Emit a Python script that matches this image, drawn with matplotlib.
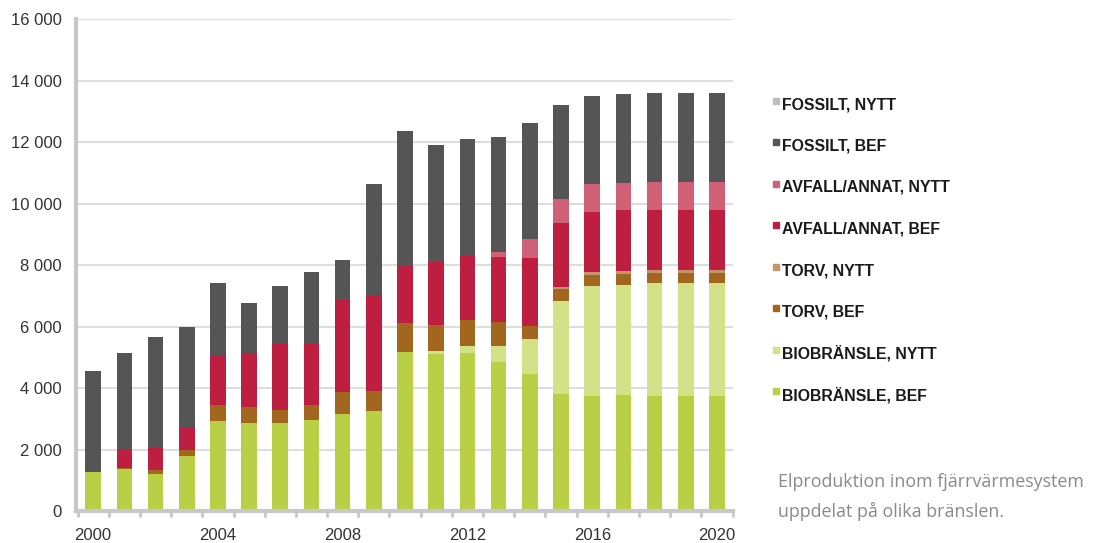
import matplotlib.pyplot as plt
from matplotlib.patches import Rectangle
from matplotlib.ticker import FuncFormatter

years = list(range(2000, 2021))

bio_bef = [1270, 1360, 1220, 1790, 2920, 2850, 2850, 2950, 3160, 3250, 5180,
           5110, 5130, 4850, 4440, 3800, 3730, 3760, 3730, 3730, 3730]
bio_nytt = [0, 0, 0, 0, 0, 0, 0, 0, 0, 0, 0,
            80, 230, 520, 1160, 3040, 3590, 3600, 3670, 3670, 3670]
torv_bef = [0, 50, 110, 190, 530, 540, 420, 500, 710, 660, 920,
            850, 850, 790, 420, 370, 360, 350, 350, 350, 350]
torv_nytt = [0, 0, 0, 0, 0, 0, 0, 0, 0, 0, 0,
             0, 0, 0, 0, 60, 80, 80, 80, 80, 80]
avfall_bef = [0, 610, 740, 760, 1640, 1750, 2200, 2020, 3000, 3130, 1860,
              2050, 2080, 2110, 2210, 2110, 1980, 2000, 1970, 1970, 1970]
avfall_nytt = [0, 0, 0, 0, 0, 0, 0, 0, 0, 0, 0,
               0, 0, 170, 630, 760, 880, 890, 900, 900, 900]
fossil_bef = [3280, 3130, 3590, 3240, 2320, 1610, 1840, 2310, 1310, 3590, 4400,
              3810, 3810, 3710, 3750, 3080, 2890, 2880, 2880, 2880, 2880]
fossil_nytt = [0] * 21

series = [
    ("BIOBRÄNSLE, BEF", bio_bef, "#b9d046"),
    ("BIOBRÄNSLE, NYTT", bio_nytt, "#d3e288"),
    ("TORV, BEF", torv_bef, "#a3661e"),
    ("TORV, NYTT", torv_nytt, "#c4956a"),
    ("AVFALL/ANNAT, BEF", avfall_bef, "#be1e3f"),
    ("AVFALL/ANNAT, NYTT", avfall_nytt, "#d06075"),
    ("FOSSILT, BEF", fossil_bef, "#555555"),
    ("FOSSILT, NYTT", fossil_nytt, "#bdbdbd"),
]

plt.rcParams["font.family"] = ["Liberation Sans", "DejaVu Sans"]

fig = plt.figure(figsize=(10.98, 5.43), dpi=100)
ax = fig.add_axes([0.0692, 0.0589, 0.598, 0.906])

x = list(range(len(years)))
bottom = [0] * len(years)
for name, vals, col in series:
    ax.bar(x, vals, width=0.5, bottom=bottom, color=col, zorder=3)
    bottom = [b + v for b, v in zip(bottom, vals)]

ax.set_xlim(-0.55, 20.5)
ax.set_ylim(0, 16000)
ax.set_yticks(range(0, 16001, 2000))
ax.yaxis.set_major_formatter(FuncFormatter(lambda v, p: f"{int(v):,}".replace(",", " ")))
ax.grid(axis="y", color="#dddddd", lw=1.5, zorder=0)

ax.set_xticks([0, 4, 8, 12, 16, 20])
ax.set_xticklabels(["2000", "2004", "2008", "2012", "2016", "2020"])
ax.set_xticks([i - 0.5 for i in range(22)], minor=True)
ax.tick_params(axis="x", which="major", length=0, labelsize=12, colors="#333333", pad=12)
ax.tick_params(axis="x", which="minor", length=4, width=2, color="#c8c8c8")
ax.tick_params(axis="y", length=0, labelsize=12, colors="#333333", pad=10)

for s in ["top", "right"]:
    ax.spines[s].set_visible(False)
for s in ["left", "bottom"]:
    ax.spines[s].set_color("#c8c8c8")
    ax.spines[s].set_linewidth(3)
    ax.spines[s].set_zorder(4)

# legend, top entry first
y0 = 1 - 104.5 / 543
step = 41.5 / 543
for i, (name, vals, col) in enumerate(reversed(series)):
    yy = y0 - i * step
    fig.patches.append(Rectangle((773 / 1098, yy + 1 / 543), 6 / 1098, 6 / 543,
                                 transform=fig.transFigure, color=col))
    fig.text(782 / 1098, yy, name, fontsize=11.4, fontweight="bold",
             color="#1a1a1a", va="center")

fig.text(778 / 1098, 1 - 482 / 543, "Elproduktion inom fjärrvärmesystem",
         fontsize=12.9, color="#8a8a8a", va="center", family="Open Sans")
fig.text(778 / 1098, 1 - 511.5 / 543, "uppdelat på olika bränslen.",
         fontsize=12.9, color="#8a8a8a", va="center", family="Open Sans")

fig.savefig("out.png", dpi=100)
